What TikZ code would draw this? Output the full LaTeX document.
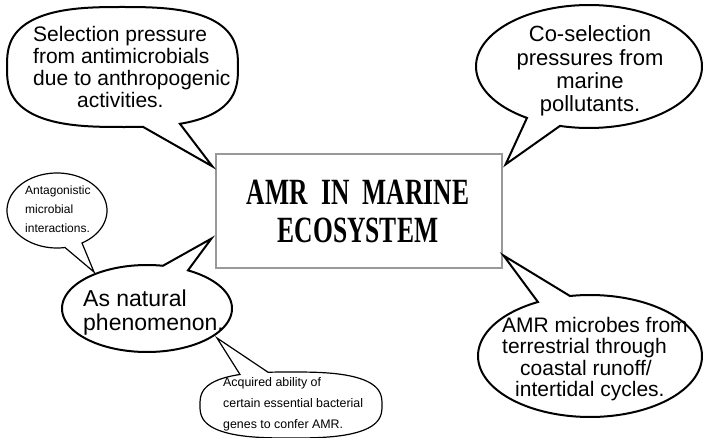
\documentclass[tikz,border=0pt]{standalone}
\usepackage{fontspec}
\setmainfont{Liberation Sans}
\newfontfamily\titlefont[FakeStretch=0.69,WordSpace=2.1]{Liberation Serif Bold}
\usetikzlibrary{calc}

% speech bubble: an oval body (superellipse, exponent n with #9 = 2/n - 1) and a pointed tail
% #1 style, #2 cx, #3 cy, #4 half width, #5 half height,
% #6 start angle, #7 end angle (the gap between them holds the tail), #8 tail tip, #9 shape exponent
\newcommand{\speechbubble}[9]{%
  \draw[#1] plot[domain=#6:#7, samples=140]
    ({#2+#4*cos(\x)*exp(#9*ln(abs(cos(\x))+0.0001))},
     {#3+#5*sin(\x)*exp(#9*ln(abs(sin(\x))+0.0001))}) -- #8 -- cycle;
}

\begin{document}
\begin{tikzpicture}[x=1pt,y=-1pt,
  bubble/.style={draw=black, fill=white, line width=2pt, line join=miter},
  smallbubble/.style={bubble, line width=1.2pt},
  txt/.style={inner sep=0pt, align=left, anchor=north west},
]
\fill[white] (0,0) rectangle (703,438);
\useasboundingbox (0,0) rectangle (703,438);

% central title box
\node[draw=black!40, line width=1.2pt, minimum width=286pt, minimum height=114pt, inner sep=0pt] (box) at (359,211) {};
\node[inner sep=0pt, anchor=north, align=center, font={\titlefont\fontsize{37}{38.5}\selectfont}] (title) at (358,179.5) {AMR IN MARINE\\ECOSYSTEM};

% tail tips
\coordinate (tltip) at ($(box.north west)+(-3,13)$);
\coordinate (trtip) at ($(box.north east)+(3,11)$);
\coordinate (brtip) at ($(box.south east)+(1,-13)$);
\coordinate (nattip) at ($(box.south west)+(-4,-30)$);
\coordinate (anttip) at (94,272);
\coordinate (acqtip) at (217,338);

% upper left bubble (squarer oval)
\speechbubble{bubble}{122.5}{67}{115.5}{60}{84.9}{427.9}{(tltip)}{-0.2857}
\node[txt, font={\fontsize{21}{21.7}\selectfont}] (tltext) at (33,26.5)
  {Selection pressure\\from antimicrobials\\due to anthropogenic\\\hspace*{44pt}activities.};

% upper right bubble
\speechbubble{bubble}{589}{66.5}{113}{61.5}{123.3}{464.9}{(trtip)}{0}
\node[inner sep=0pt, anchor=north, align=center, font={\fontsize{22}{23.3}\selectfont}] (trtext) at (590,25.6)
  {Co-selection\\pressures from\\marine\\pollutants.};

% lower right bubble
\speechbubble{bubble}{590}{356}{112}{61}{259.7}{602.3}{(brtip)}{0}
\node[txt, font={\fontsize{21}{21.5}\selectfont}] (brtext) at (502,316.7)
  {AMR microbes from\\terrestrial through\\\hspace*{18pt}coastal runoff/\\\hspace*{13pt}intertidal cycles.};

% natural phenomenon bubble
\speechbubble{bubble}{147}{308.5}{85}{43.5}{298.8}{640.8}{(nattip)}{0}
\node[txt, font={\fontsize{23}{23.5}\selectfont}] (nattext) at (83,290)
  {As natural\\phenomenon.};

% antagonistic interactions bubble
\speechbubble{smallbubble}{57}{210.5}{50}{37.5}{80.8}{420}{(anttip)}{0}
\node[txt, font={\fontsize{12}{19}\selectfont}] (anttext) at (25,186)
  {Antagonistic\\microbial\\interactions.};

% acquired ability bubble (squarer oval)
\speechbubble{smallbubble}{291}{405}{91}{33}{261.6}{603.6}{(acqtip)}{-0.2857}
\node[txt, font={\fontsize{12.4}{20.7}\selectfont}] (acqtext) at (223,377.5)
  {Acquired ability of\\certain essential bacterial\\genes to confer AMR.};
\end{tikzpicture}
\end{document}
